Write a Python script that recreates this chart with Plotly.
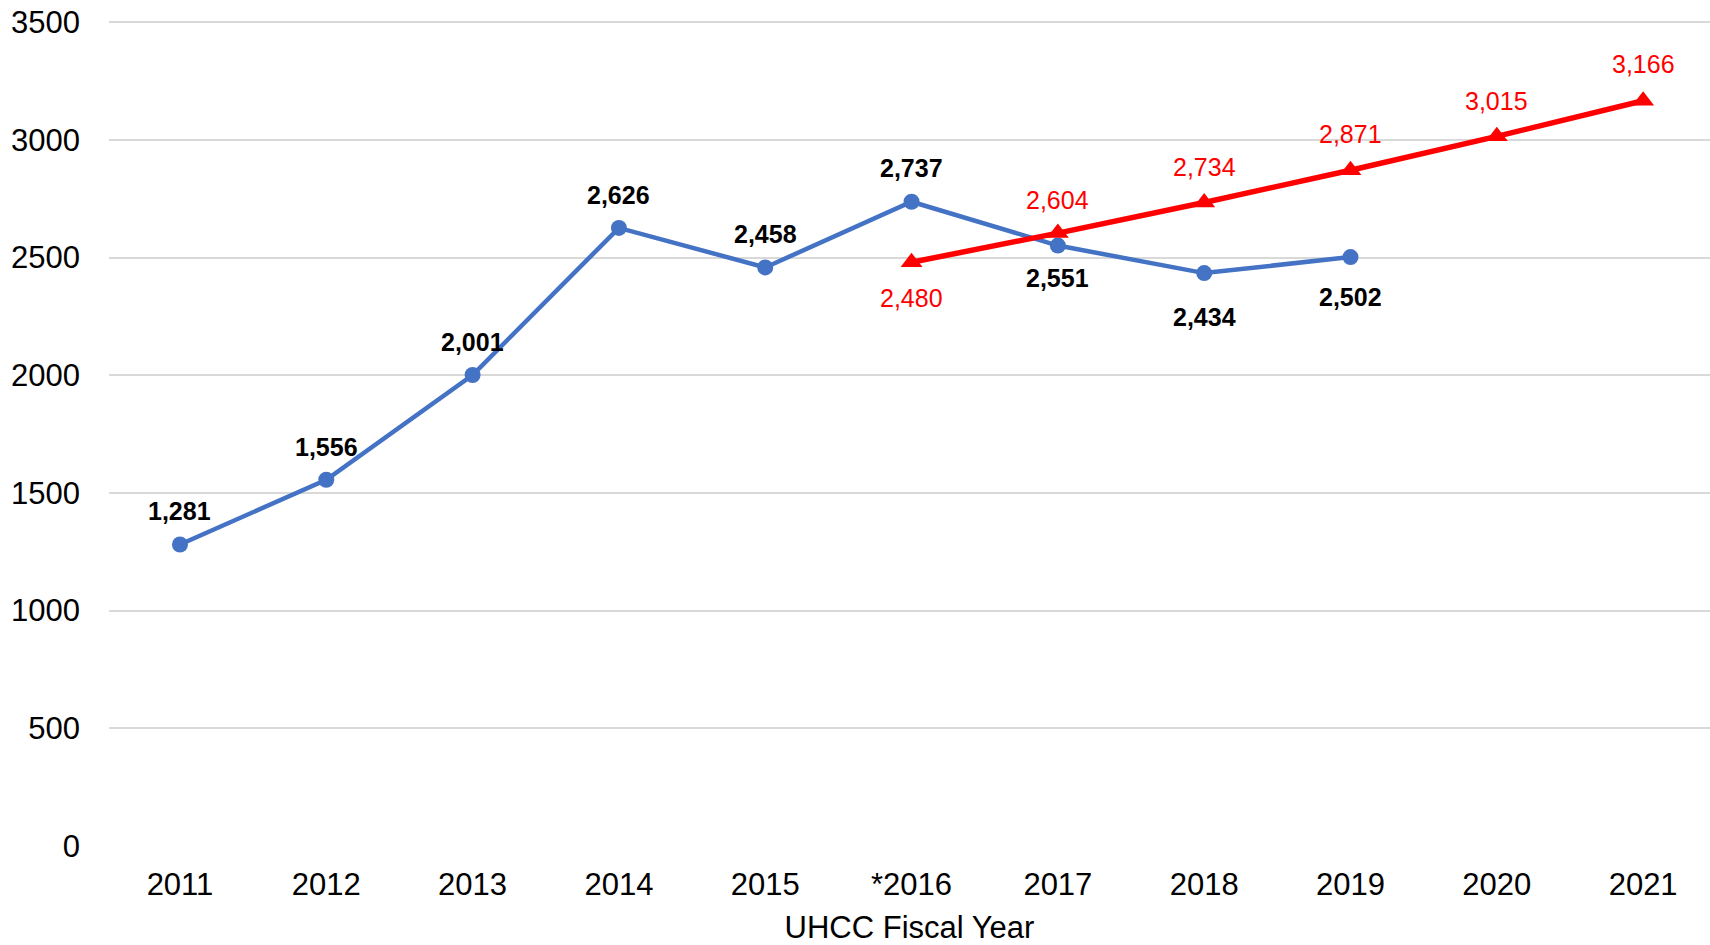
import plotly.graph_objects as go

categories = ["2011", "2012", "2013", "2014", "2015", "*2016", "2017", "2018", "2019", "2020", "2021"]
actual_years = ["2011", "2012", "2013", "2014", "2015", "*2016", "2017", "2018", "2019"]
actual_values = [1281, 1556, 2001, 2626, 2458, 2737, 2551, 2434, 2502]
target_years = ["*2016", "2017", "2018", "2019", "2020", "2021"]
target_values = [2480, 2604, 2734, 2871, 3015, 3166]

# label vertical offsets in pixels (style, not data)
actual_label_shift = [33, 33, 33, 33, 33, 34, -32, -44, -40]
target_label_shift = [-36, 33, 35, 36, 35, 37]

blue = "#4472C4"
red = "#FF0000"
font_family = "Liberation Sans, Arial, sans-serif"

fig = go.Figure()
fig.add_trace(go.Scatter(
    x=actual_years, y=actual_values, mode="lines+markers",
    line=dict(color=blue, width=4.5),
    marker=dict(symbol="circle", size=16, color=blue),
    showlegend=False,
))
fig.add_trace(go.Scatter(
    x=target_years, y=target_values, mode="lines+markers",
    line=dict(color=red, width=5.5),
    marker=dict(symbol="triangle-up", size=19, color=red),
    showlegend=False,
))

for xv, yv, dy in zip(actual_years, actual_values, actual_label_shift):
    fig.add_annotation(x=categories.index(xv), y=yv, text=f"<b>{yv:,}</b>", showarrow=False,
                       yshift=dy, xanchor="center", yanchor="middle",
                       font=dict(family=font_family, size=25, color="#000000"))
for xv, yv, dy in zip(target_years, target_values, target_label_shift):
    fig.add_annotation(x=categories.index(xv), y=yv, text=f"{yv:,}", showarrow=False,
                       yshift=dy, xanchor="center", yanchor="middle",
                       font=dict(family=font_family, size=25, color=red))

fig.update_layout(
    width=1710, height=945,
    margin=dict(l=109, r=0, t=21, b=99),
    paper_bgcolor="white", plot_bgcolor="white",
    font=dict(family=font_family, size=31, color="#000000"),
    xaxis=dict(
        type="category", categoryorder="array", categoryarray=categories,
        range=[-0.485, 10.457], automargin=False,
        showgrid=False, showline=False, zeroline=False,
        ticks="", ticklabelstandoff=17,
        tickfont=dict(size=31),
        title=dict(text="UHCC Fiscal Year", font=dict(size=31), standoff=33),
    ),
    yaxis=dict(
        range=[0, 3505], tickvals=[0, 500, 1000, 1500, 2000, 2500, 3000, 3500],
        tickformat="d", automargin=False,
        showgrid=True, gridcolor="#D9D9D9", gridwidth=2,
        zeroline=False, showline=False, ticks="",
        ticklabelstandoff=28,
        tickfont=dict(size=31),
    ),
)

fig.write_html("out.html", config={"displayModeBar": False},
               post_script="document.body.style.margin='0';")
